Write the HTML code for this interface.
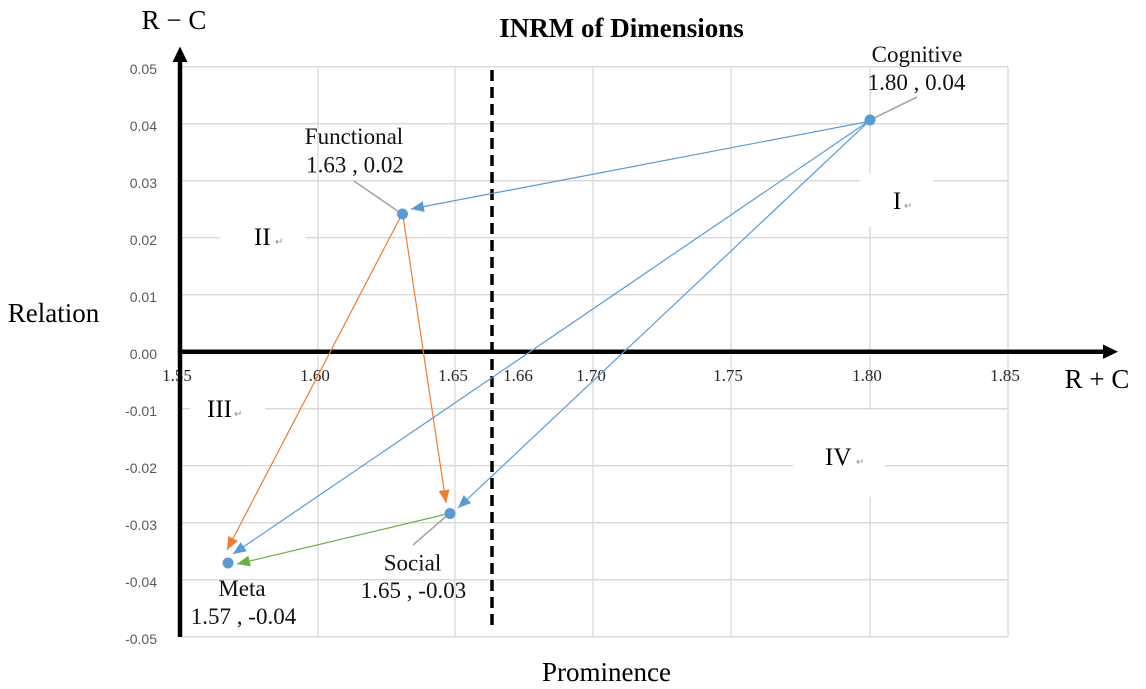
<!DOCTYPE html>
<html>
<head>
<meta charset="utf-8">
<style>
  html, body { margin: 0; padding: 0; background: #ffffff; }
  svg { display: block; }
  .serif { font-family: "Liberation Serif", "Times New Roman", serif; }
  .sans { font-family: "Liberation Sans", Arial, sans-serif; }
</style>
</head>
<body>
<svg width="1146" height="689" viewBox="0 0 1146 689" xmlns="http://www.w3.org/2000/svg">
  <defs>
    <marker id="ab" markerUnits="userSpaceOnUse" markerWidth="14" markerHeight="12" refX="13" refY="5.5" orient="auto">
      <path d="M0,0 L13,5.5 L0,11 z" fill="#5b9bd5"/>
    </marker>
    <marker id="ao" markerUnits="userSpaceOnUse" markerWidth="14" markerHeight="12" refX="13" refY="5.5" orient="auto">
      <path d="M0,0 L13,5.5 L0,11 z" fill="#ed7d31"/>
    </marker>
    <marker id="ag" markerUnits="userSpaceOnUse" markerWidth="14" markerHeight="12" refX="13" refY="5.5" orient="auto">
      <path d="M0,0 L13,5.5 L0,11 z" fill="#70ad47"/>
    </marker>
  </defs>

  <rect x="0" y="0" width="1146" height="689" fill="#ffffff"/>

  <!-- gridlines -->
  <g stroke="#d9d9d9" stroke-width="1.3" fill="none">
    <line x1="180" y1="66.7" x2="1008" y2="66.7"/>
    <line x1="180" y1="123.7" x2="1008" y2="123.7"/>
    <line x1="180" y1="180.7" x2="1008" y2="180.7"/>
    <line x1="180" y1="237.7" x2="1008" y2="237.7"/>
    <line x1="180" y1="294.7" x2="1008" y2="294.7"/>
    <line x1="180" y1="351.7" x2="1008" y2="351.7"/>
    <line x1="180" y1="408.7" x2="1008" y2="408.7"/>
    <line x1="180" y1="465.7" x2="1008" y2="465.7"/>
    <line x1="180" y1="522.7" x2="1008" y2="522.7"/>
    <line x1="180" y1="579.7" x2="1008" y2="579.7"/>
    <line x1="180" y1="636.7" x2="1008" y2="636.7"/>
    <line x1="318" y1="66.7" x2="318" y2="636.7"/>
    <line x1="455" y1="66.7" x2="455" y2="636.7"/>
    <line x1="593" y1="66.7" x2="593" y2="636.7"/>
    <line x1="731" y1="66.7" x2="731" y2="636.7"/>
    <line x1="870" y1="66.7" x2="870" y2="636.7"/>
    <line x1="1008" y1="66.7" x2="1008" y2="636.7"/>
  </g>

  <!-- quadrant label boxes -->
  <rect x="860" y="174" width="73" height="53" fill="#ffffff"/>
  <rect x="220" y="220" width="85" height="38" fill="#ffffff"/>
  <rect x="190" y="390" width="75" height="38" fill="#ffffff"/>
  <rect x="793" y="410" width="92" height="87" fill="#ffffff"/>

  <g class="serif" font-size="25" fill="#000">
    <text x="893" y="209">I</text>
    <text x="254" y="245">II</text>
    <text x="207" y="417">III</text>
    <text x="825" y="465">IV</text>
  </g>
  <g font-family="DejaVu Sans, sans-serif" font-size="10" fill="#8a8a8a">
    <text x="904" y="209">↵</text>
    <text x="275" y="245">↵</text>
    <text x="234" y="417">↵</text>
    <text x="856" y="465">↵</text>
  </g>

  <!-- dashed threshold line -->
  <line x1="492" y1="70" x2="492" y2="629" stroke="#000" stroke-width="3.5" stroke-dasharray="11 6"/>

  <!-- y tick labels -->
  <g class="sans" font-size="14" fill="#595959" text-anchor="end">
    <text x="157" y="74">0.05</text>
    <text x="157" y="131">0.04</text>
    <text x="157" y="188">0.03</text>
    <text x="157" y="245">0.02</text>
    <text x="157" y="302">0.01</text>
    <text x="157" y="359">0.00</text>
    <text x="157" y="416">-0.01</text>
    <text x="157" y="473">-0.02</text>
    <text x="157" y="530">-0.03</text>
    <text x="157" y="587">-0.04</text>
    <text x="157" y="644">-0.05</text>
  </g>

  <!-- x tick labels -->
  <g class="serif" font-size="17" fill="#262626" text-anchor="middle">
    <text x="177" y="381">1.55</text>
    <text x="315" y="381">1.60</text>
    <text x="453" y="381">1.65</text>
    <text x="518" y="381">1.66</text>
    <text x="591" y="381">1.70</text>
    <text x="728" y="381">1.75</text>
    <text x="867" y="381">1.80</text>
    <text x="1005" y="381">1.85</text>
  </g>

  <!-- axes -->
  <line x1="180" y1="58" x2="180" y2="637" stroke="#000" stroke-width="4.5"/>
  <path d="M180,46.5 L187.5,62 L172.5,62 z" fill="#000"/>
  <line x1="178" y1="351.7" x2="1106" y2="351.7" stroke="#000" stroke-width="4.5"/>
  <path d="M1118,351.7 L1103,344.5 L1103,358.9 z" fill="#000"/>

  <!-- relation arrows -->
  <g fill="none" stroke-width="1.2">
    <line x1="866" y1="122" x2="411" y2="209" stroke="#5b9bd5" marker-end="url(#ab)"/>
    <line x1="866" y1="123" x2="233" y2="554" stroke="#5b9bd5" marker-end="url(#ab)"/>
    <line x1="866" y1="124" x2="458" y2="508" stroke="#5b9bd5" marker-end="url(#ab)"/>
    <line x1="401" y1="216" x2="227" y2="550" stroke="#ed7d31" marker-end="url(#ao)"/>
    <line x1="403" y1="216" x2="446" y2="503" stroke="#ed7d31" marker-end="url(#ao)"/>
    <line x1="447" y1="514" x2="237" y2="564" stroke="#70ad47" marker-end="url(#ag)"/>
  </g>

  <!-- leader lines -->
  <g stroke="#a6a6a6" stroke-width="1.6" fill="none">
    <line x1="917" y1="97" x2="870" y2="120"/>
    <line x1="354" y1="181" x2="402" y2="214"/>
    <line x1="413" y1="545" x2="450" y2="513"/>
  </g>

  <!-- points -->
  <g fill="#5b9bd5">
    <circle cx="870" cy="120" r="5.5"/>
    <circle cx="402.5" cy="214" r="5.5"/>
    <circle cx="228" cy="563" r="5.5"/>
    <circle cx="450" cy="513.5" r="5.5"/>
  </g>

  <!-- data labels -->
  <g class="serif" font-size="23" fill="#111" text-anchor="middle">
    <text x="917" y="62">Cognitive</text>
    <text x="916.5" y="90">1.80 , 0.04</text>
    <text x="354" y="144">Functional</text>
    <text x="355" y="172.5">1.63 , 0.02</text>
    <text x="242" y="596">Meta</text>
    <text x="243.5" y="624">1.57 , -0.04</text>
    <text x="412.5" y="570.5">Social</text>
    <text x="413.5" y="598">1.65 , -0.03</text>
  </g>

  <!-- title and axis titles -->
  <text class="serif" x="621.5" y="37" font-size="27" font-weight="bold" text-anchor="middle" fill="#000">INRM of Dimensions</text>
  <text class="serif" x="174" y="29" font-size="27" text-anchor="middle" fill="#000">R − C</text>
  <text class="serif" x="1097" y="388" font-size="27" text-anchor="middle" fill="#000">R + C</text>
  <text class="serif" x="53.5" y="322" font-size="27" text-anchor="middle" fill="#000">Relation</text>
  <text class="serif" x="606.5" y="681" font-size="27" text-anchor="middle" fill="#000">Prominence</text>
</svg>
</body>
</html>
